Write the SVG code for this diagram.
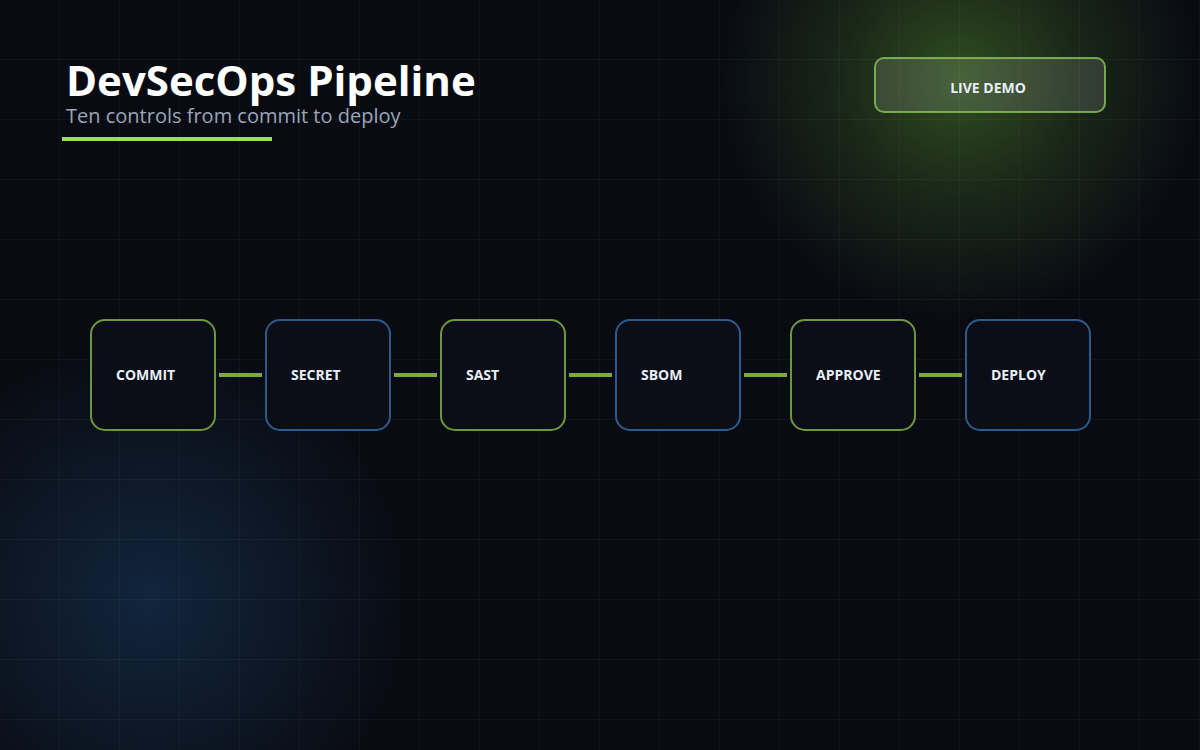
<svg xmlns="http://www.w3.org/2000/svg" width="1200" height="750" viewBox="0 0 1200 750">
<defs>
<radialGradient id="gg" cx="960" cy="80" r="240" gradientUnits="userSpaceOnUse"><stop offset="0" stop-color="#4a7a2a" stop-opacity="0.6"/><stop offset="0.5" stop-color="#4a7a2a" stop-opacity="0.25"/><stop offset="1" stop-color="#4a7a2a" stop-opacity="0"/></radialGradient>
<radialGradient id="bg2" cx="150" cy="600" r="260" gradientUnits="userSpaceOnUse"><stop offset="0" stop-color="#1a3f66" stop-opacity="0.5"/><stop offset="1" stop-color="#1a3f66" stop-opacity="0"/></radialGradient>
<pattern id="grid" width="60" height="60" patternUnits="userSpaceOnUse"><path d="M60 0V60M0 60H60" fill="none" stroke="#ffffff" stroke-opacity="0.07" stroke-width="1"/></pattern>
<style>
.n{fill:#0b0e16;stroke-width:2}
.g{stroke:#6e9640}
.b{stroke:#2e5a8a}
.t{font-family:"Open Sans","Noto Sans",sans-serif;font-weight:700;font-size:14px;fill:#e8eef8}
.c{stroke:#7aa845;stroke-width:4}
</style>
</defs>
<rect width="1200" height="750" fill="#090b12"/>
<rect width="1200" height="750" fill="url(#gg)"/>
<rect width="1200" height="750" fill="url(#bg2)"/>
<rect width="1200" height="750" fill="url(#grid)"/>
<text x="66" y="96" font-family="Open Sans,Noto Sans,sans-serif" font-weight="700" font-size="42" fill="#ffffff">DevSecOps Pipeline</text>
<text x="66" y="123" font-family="Open Sans,Noto Sans,sans-serif" font-size="20" fill="#9aa6b8">Ten controls from commit to deploy</text>
<rect x="62" y="137" width="210" height="4" fill="#9be14a"/>
<g id="live-demo"><rect x="875" y="58" width="230" height="54" rx="9" fill="#ffffff" fill-opacity="0.12" stroke="#8cc458" stroke-width="2" stroke-opacity="0.8"/><text x="988" y="93" text-anchor="middle" class="t" fill="#f0f4f8">LIVE DEMO</text></g>
<g id="connectors">
<line class="c" x1="219" y1="375" x2="262" y2="375"/>
<line class="c" x1="394" y1="375" x2="437" y2="375"/>
<line class="c" x1="569" y1="375" x2="612" y2="375"/>
<line class="c" x1="744" y1="375" x2="787" y2="375"/>
<line class="c" x1="919" y1="375" x2="962" y2="375"/>
</g>
<g id="commit"><rect class="n g" x="91" y="320" width="124" height="110" rx="14"/><text class="t" x="116" y="380">COMMIT</text></g>
<g id="secret"><rect class="n b" x="266" y="320" width="124" height="110" rx="14"/><text class="t" x="291" y="380">SECRET</text></g>
<g id="sast"><rect class="n g" x="441" y="320" width="124" height="110" rx="14"/><text class="t" x="466" y="380">SAST</text></g>
<g id="sbom"><rect class="n b" x="616" y="320" width="124" height="110" rx="14"/><text class="t" x="641" y="380">SBOM</text></g>
<g id="approve"><rect class="n g" x="791" y="320" width="124" height="110" rx="14"/><text class="t" x="816" y="380">APPROVE</text></g>
<g id="deploy"><rect class="n b" x="966" y="320" width="124" height="110" rx="14"/><text class="t" x="991" y="380">DEPLOY</text></g>
</svg>
